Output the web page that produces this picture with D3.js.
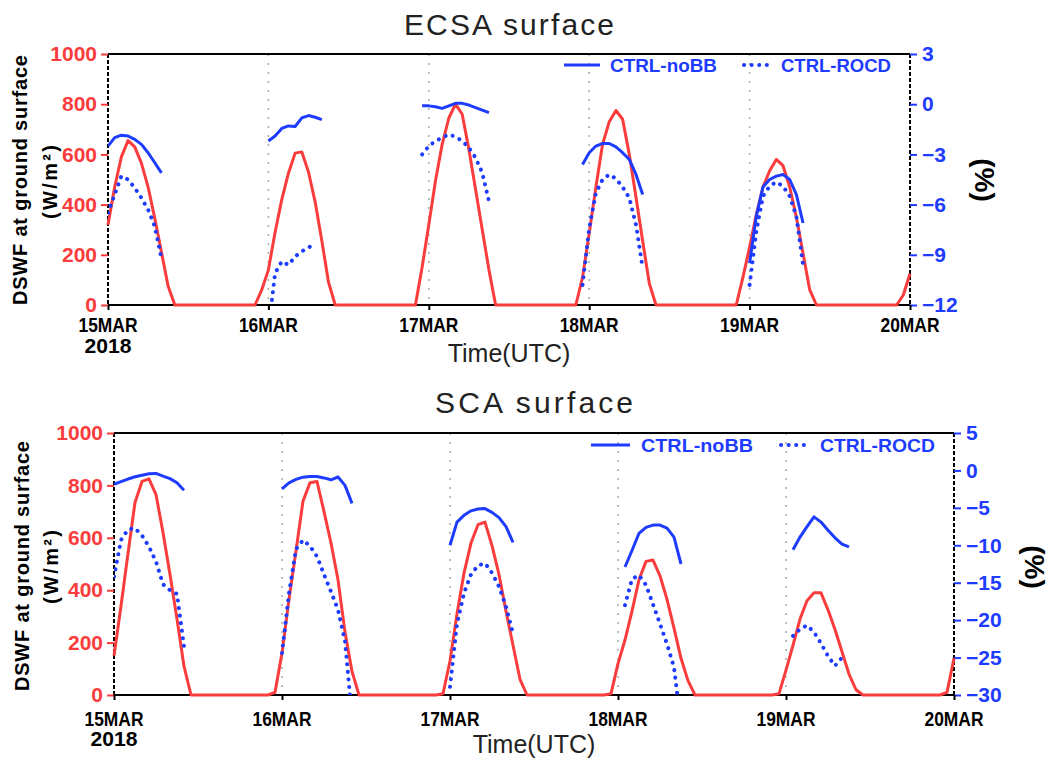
<!DOCTYPE html>
<html>
<head>
<meta charset="utf-8">
<script src="https://cdn.jsdelivr.net/npm/d3@7"></script>
<style>
  body { margin: 0; background: #fff; }
  svg { display: block; font-family: "Liberation Sans", Arial, sans-serif; }
</style>
</head>
<body>
<div id="chart"></div>
<script>
// hourly steps, 15MAR 00UTC .. 20MAR 00UTC
const dayTicks = [0, 24, 48, 72, 96, 120];
const dayLabels = ["15MAR", "16MAR", "17MAR", "18MAR", "19MAR", "20MAR"];
const yearLabel = "2018";
const leftTicks = [0, 200, 400, 600, 800, 1000];
const ecsaRightTicks = [-12, -9, -6, -3, 0, 3];
const scaRightTicks = [-30, -25, -20, -15, -10, -5, 0, 5];
const seriesNames = ["CTRL-noBB", "CTRL-ROCD"];

// DSWF (W/m2), one value per hour
const ecsaDswf = [
  320, 470, 590, 655, 630, 565, 470, 345, 210, 75, 0, 0, 0, 0, 0, 0, 0, 0, 0, 0, 0, 0, 0, 60,
  140, 290, 420, 525, 605, 610, 530, 410, 255, 90, 0, 0, 0, 0, 0, 0, 0, 0, 0, 0, 0, 0, 0, 150,
  320, 495, 640, 745, 800, 760, 620, 460, 300, 140, 0, 0, 0, 0, 0, 0, 0, 0, 0, 0, 0, 0, 0, 110,
  285, 470, 640, 730, 775, 740, 600, 430, 255, 85, 0, 0, 0, 0, 0, 0, 0, 0, 0, 0, 0, 0, 0, 110,
  230, 360, 470, 535, 580, 555, 470, 350, 205, 60, 0, 0, 0, 0, 0, 0, 0, 0, 0, 0, 0, 0, 0, 40,
  125,
];
const scaDswf = [
  150, 340, 540, 735, 815, 825, 765, 620, 460, 290, 110, 0, 0, 0, 0, 0, 0, 0, 0, 0, 0, 0, 0, 10,
  160, 365, 550, 740, 810, 815, 700, 580, 440, 240, 90, 0, 0, 0, 0, 0, 0, 0, 0, 0, 0, 0, 0, 5,
  130, 310, 465, 580, 650, 660, 570, 460, 320, 190, 60, 0, 0, 0, 0, 0, 0, 0, 0, 0, 0, 0, 0, 5,
  120, 210, 320, 440, 510, 515, 455, 365, 255, 140, 55, 0, 0, 0, 0, 0, 0, 0, 0, 0, 0, 0, 0, 5,
  95, 190, 290, 360, 390, 390, 325, 250, 165, 80, 20, 0, 0, 0, 0, 0, 0, 0, 0, 0, 0, 0, 0, 10,
  140,
];

// differences (%), daytime segments: [first hour, hourly values]
const ecsaNoBB = [
  [0, [-2.5, -2.0, -1.85, -1.9, -2.1, -2.4, -2.9, -3.5, -4.1]],
  [24, [-2.2, -1.9, -1.45, -1.3, -1.33, -0.82, -0.68, -0.78, -0.92]],
  [47, [-0.1, -0.1, -0.15, -0.25, -0.1, 0.05, 0.05, -0.05, -0.2, -0.35, -0.5]],
  [71, [-3.6, -2.9, -2.5, -2.35, -2.35, -2.55, -2.9, -3.3, -4.2, -5.4]],
  [96, [-9.5, -6.7, -4.95, -4.5, -4.3, -4.2, -4.5, -5.4, -7.1]],
];
const ecsaRocd = [
  [0, [-6.5, -5.4, -4.3, -4.5, -5.0, -5.6, -6.3, -7.3, -9.2]],
  [24, [-13.5, -10.1, -9.4, -9.6, -9.1, -8.8, -8.55, -8.4]],
  [47, [-3.0, -2.5, -2.2, -2.0, -1.8, -1.95, -2.2, -2.6, -3.2, -4.1, -5.8]],
  [71, [-10.8, -7.4, -5.3, -4.5, -4.2, -4.45, -4.95, -5.6, -7.2, -9.8]],
  [96, [-10.8, -7.6, -5.5, -4.9, -4.65, -4.9, -5.5, -6.7, -9.6]],
];
const scaNoBB = [
  [0, [-1.85, -1.5, -1.15, -0.85, -0.65, -0.45, -0.4, -0.75, -1.1, -1.65, -2.65]],
  [24, [-2.45, -1.65, -1.2, -0.9, -0.8, -0.82, -1.0, -1.25, -0.88, -2.0, -4.4]],
  [48, [-10.0, -6.9, -6.0, -5.4, -5.15, -5.1, -5.6, -6.3, -7.5, -9.6]],
  [73, [-12.9, -10.7, -8.4, -7.6, -7.3, -7.3, -7.7, -8.9, -12.5]],
  [97, [-10.6, -8.9, -7.5, -6.2, -6.9, -8.0, -9.0, -9.85, -10.2]],
];
const scaRocd = [
  [0, [-14.2, -9.3, -7.9, -7.7, -8.7, -10.2, -12.2, -15.2, -16.0, -16.5, -23.5]],
  [24, [-24.4, -16.4, -10.5, -9.3, -10.1, -11.5, -13.9, -16.2, -18.6, -22.8, -33]],
  [48, [-28.9, -20.5, -16.4, -13.9, -12.7, -12.4, -13.7, -15.5, -18.2, -21.8]],
  [73, [-18.0, -14.5, -14.0, -15.3, -17.9, -20.5, -23.2, -26.3, -34]],
  [97, [-22.1, -21.2, -20.7, -21.6, -23.1, -24.8, -26.1, -25.0]],
];

const RED = "rgb(250,60,60)";
const BLUE = "rgb(30,60,255)";

const fmtPct = (d) => (d < 0 ? "\u2212" + Math.abs(d) : String(d));

const drawPanel = (svg, p, id) => {
  const x = d3.scaleLinear().domain([0, 120]).range([p.left, p.right]);
  const yL = d3.scaleLinear().domain([0, 1000]).range([p.bottom, p.top]);
  const yR = d3.scaleLinear().domain(p.rightDomain).range([p.bottom, p.top]);
  const midX = (p.left + p.right) / 2;
  const g = svg.append("g");

  g.append("clipPath")
    .attr("id", "clip" + id)
    .append("rect")
    .attr("x", p.left)
    .attr("y", p.top)
    .attr("width", p.right - p.left)
    .attr("height", p.bottom - p.top);

  // title
  g.append("text")
    .attr("x", midX)
    .attr("y", p.titleY)
    .attr("text-anchor", "middle")
    .attr("font-size", 30)
    .attr("fill", "#222")
    .attr("textLength", p.titleLen)
    .attr("lengthAdjust", "spacing")
    .text(p.title);

  // dotted day lines
  g.append("g")
    .selectAll("line")
    .data(dayTicks.slice(1, -1))
    .join("line")
    .attr("x1", (d) => x(d))
    .attr("x2", (d) => x(d))
    .attr("y1", p.top)
    .attr("y2", p.bottom)
    .attr("stroke", "#a8a8a8")
    .attr("stroke-width", 1.5)
    .attr("stroke-dasharray", "2 7");

  // frame: solid top/bottom, dashed sides
  g.append("line").attr("x1", p.left).attr("x2", p.right).attr("y1", p.top).attr("y2", p.top)
    .attr("stroke", "#000").attr("stroke-width", 2);
  g.append("line").attr("x1", p.left).attr("x2", p.right).attr("y1", p.bottom).attr("y2", p.bottom)
    .attr("stroke", "#000").attr("stroke-width", 2);
  [p.left, p.right].forEach((xx) => {
    g.append("line").attr("x1", xx).attr("x2", xx).attr("y1", p.top).attr("y2", p.bottom)
      .attr("stroke", "#000").attr("stroke-width", 2).attr("stroke-dasharray", "4 2");
  });

  // left axis (DSWF)
  const axL = g.append("g")
    .attr("transform", `translate(${p.left},0)`)
    .call(d3.axisLeft(yL).tickValues(leftTicks).tickSize(7).tickPadding(4).tickFormat(d3.format("d")));
  axL.select(".domain").remove();
  axL.selectAll("line").attr("stroke", RED).attr("stroke-width", 2);
  axL.selectAll("text").attr("fill", RED).attr("font-size", 21).attr("font-weight", "bold")
    .attr("font-family", "Liberation Sans, Arial, sans-serif");

  // right axis (%)
  const axR = g.append("g")
    .attr("transform", `translate(${p.right},0)`)
    .call(d3.axisRight(yR).tickValues(p.rightTicks).tickSize(7).tickPadding(5).tickFormat(fmtPct));
  axR.select(".domain").remove();
  axR.selectAll("line").attr("stroke", BLUE).attr("stroke-width", 2);
  axR.selectAll("text").attr("fill", BLUE).attr("font-size", 21).attr("font-weight", "bold")
    .attr("font-family", "Liberation Sans, Arial, sans-serif");

  // x ticks + date labels
  const axX = g.append("g")
    .attr("transform", `translate(0,${p.bottom})`)
    .call(d3.axisBottom(x).tickValues(dayTicks).tickSize(5).tickFormat(""));
  axX.select(".domain").remove();
  axX.selectAll("line").attr("stroke", "#000").attr("stroke-width", 2);

  g.append("g")
    .selectAll("text")
    .data(dayTicks)
    .join("text")
    .attr("x", (d) => x(d))
    .attr("y", p.dateY)
    .attr("text-anchor", "middle")
    .attr("font-size", 21)
    .attr("font-weight", "bold")
    .attr("textLength", 59)
    .attr("lengthAdjust", "spacingAndGlyphs")
    .text((d, i) => dayLabels[i]);

  g.append("text")
    .attr("x", x(dayTicks[0]))
    .attr("y", p.yearY)
    .attr("text-anchor", "middle")
    .attr("font-size", 21)
    .attr("font-weight", "bold")
    .attr("textLength", 47)
    .attr("lengthAdjust", "spacingAndGlyphs")
    .text(yearLabel);

  g.append("text")
    .attr("x", midX)
    .attr("y", p.timeY)
    .attr("text-anchor", "middle")
    .attr("font-size", 25)
    .attr("fill", "#222")
    .text("Time(UTC)");

  // axis titles
  g.append("text")
    .attr("transform", `translate(${p.ylab1[0]},${p.ylab1[1]}) rotate(-90)`)
    .attr("text-anchor", "middle")
    .attr("font-size", 20)
    .attr("font-weight", "bold")
    .attr("textLength", 250)
    .attr("lengthAdjust", "spacing")
    .text("DSWF at ground surface");
  g.append("text")
    .attr("transform", `translate(${p.ylab2[0]},${p.ylab2[1]}) rotate(-90)`)
    .attr("text-anchor", "middle")
    .attr("font-size", 20)
    .attr("font-weight", "bold")
    .attr("textLength", 74)
    .attr("lengthAdjust", "spacing")
    .text("(W/m\u00b2)");
  g.append("text")
    .attr("transform", `translate(${p.pctLab[0]},${p.pctLab[1]}) rotate(90)`)
    .attr("text-anchor", "middle")
    .attr("font-size", 28)
    .attr("font-weight", "bold")
    .text("(%)");

  // DSWF line
  const lineL = d3.line().x((d, i) => x(i)).y((d) => yL(d));
  g.append("path")
    .attr("d", lineL(p.dswf))
    .attr("fill", "none")
    .attr("stroke", RED)
    .attr("stroke-width", 3)
    .attr("stroke-linejoin", "round");

  // percentage difference lines
  const lineR = d3.line().x((d) => x(d[0])).y((d) => yR(d[1]));
  const toPts = ([h0, vals]) => vals.map((v, i) => [h0 + i, v]);
  const blue = g.append("g").attr("clip-path", `url(#clip${id})`);

  blue.selectAll("path.nobb")
    .data(p.noBB)
    .join("path")
    .attr("class", "nobb")
    .attr("d", (s) => lineR(toPts(s)))
    .attr("fill", "none")
    .attr("stroke", BLUE)
    .attr("stroke-width", 3)
    .attr("stroke-linejoin", "round");

  blue.selectAll("path.rocd")
    .data(p.rocd)
    .join("path")
    .attr("class", "rocd")
    .attr("d", (s) => lineR(toPts(s)))
    .attr("fill", "none")
    .attr("stroke", BLUE)
    .attr("stroke-width", 4)
    .attr("stroke-linecap", "round")
    .attr("stroke-dasharray", "0.1 7.5");

  // legend
  const lg = p.legend;
  g.append("line").attr("x1", lg.solid[0]).attr("x2", lg.solid[1]).attr("y1", lg.y).attr("y2", lg.y)
    .attr("stroke", BLUE).attr("stroke-width", 3);
  g.append("line").attr("x1", lg.dotted[0]).attr("x2", lg.dotted[1]).attr("y1", lg.y).attr("y2", lg.y)
    .attr("stroke", BLUE).attr("stroke-width", 4).attr("stroke-linecap", "round")
    .attr("stroke-dasharray", "0.1 7.5");
  [[lg.text1, lg.len1, seriesNames[0]], [lg.text2, lg.len2, seriesNames[1]]].forEach(([tx, len, name]) => {
    g.append("text")
      .attr("x", tx)
      .attr("y", lg.y + 7)
      .attr("font-size", 19)
      .attr("font-weight", "bold")
      .attr("fill", BLUE)
      .attr("textLength", len)
      .attr("lengthAdjust", "spacingAndGlyphs")
      .text(name);
  });
};

const width = 1054;
const height = 764;

const svg = d3
  .select("#chart")
  .append("svg")
  .attr("width", width)
  .attr("height", height);

drawPanel(svg, {
  title: "ECSA surface", titleY: 35, titleLen: 210,
  left: 108, right: 910, top: 54, bottom: 305,
  dswf: ecsaDswf, noBB: ecsaNoBB, rocd: ecsaRocd,
  rightDomain: [-12, 3], rightTicks: ecsaRightTicks,
  dateY: 332, yearY: 353, timeY: 362,
  ylab1: [27, 180], ylab2: [57, 182], pctLab: [975, 180],
  legend: { y: 65, solid: [564, 600], text1: 610, len1: 107, dotted: [744, 774], text2: 781, len2: 110 },
}, 0);

drawPanel(svg, {
  title: "SCA surface", titleY: 413, titleLen: 198,
  left: 114, right: 954, top: 433, bottom: 695,
  dswf: scaDswf, noBB: scaNoBB, rocd: scaRocd,
  rightDomain: [-30, 5], rightTicks: scaRightTicks,
  dateY: 726, yearY: 746, timeY: 753,
  ylab1: [29, 566], ylab2: [58, 567], pctLab: [1025, 567],
  legend: { y: 445, solid: [591, 630], text1: 641, len1: 112, dotted: [781, 811], text2: 820, len2: 115 },
}, 1);
</script>
</body>
</html>
